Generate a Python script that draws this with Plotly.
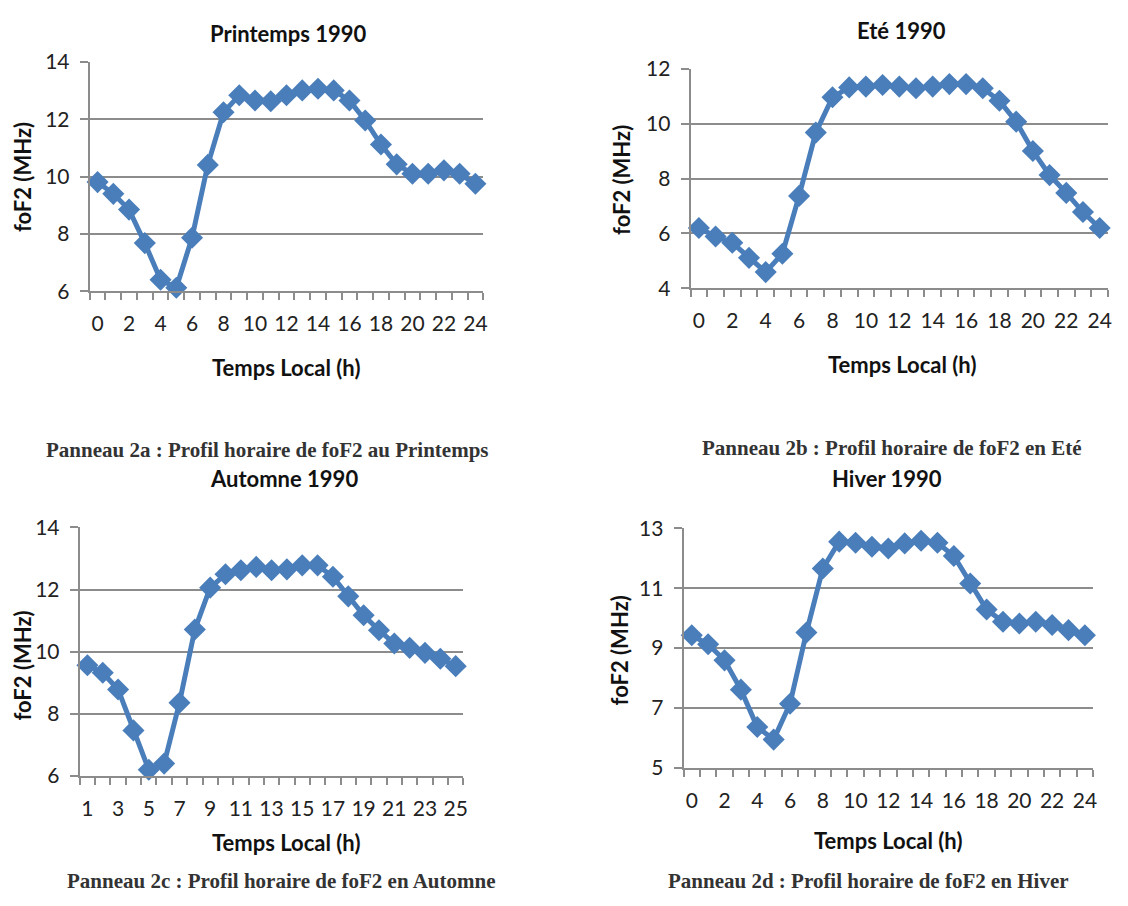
import plotly.graph_objects as go

# ---------------- data ----------------
hours_a = list(range(0, 25))
foF2_printemps = [9.81, 9.40, 8.85, 7.68, 6.40, 6.12, 7.87, 10.41, 12.25, 12.84, 12.66, 12.63, 12.84,
                  13.01, 13.07, 13.01, 12.66, 11.96, 11.12, 10.43, 10.10, 10.10, 10.22, 10.10, 9.75]

hours_b = list(range(0, 25))
foF2_ete = [6.20, 5.89, 5.66, 5.11, 4.59, 5.26, 7.37, 9.68, 10.97, 11.33, 11.36, 11.42, 11.36,
            11.30, 11.36, 11.45, 11.45, 11.30, 10.84, 10.08, 9.01, 8.13, 7.48, 6.78, 6.20]

hours_c = list(range(1, 26))
foF2_automne = [9.56, 9.32, 8.78, 7.46, 6.19, 6.39, 8.35, 10.71, 12.06, 12.49, 12.62, 12.73, 12.62,
                12.65, 12.78, 12.78, 12.41, 11.78, 11.17, 10.69, 10.26, 10.12, 9.96, 9.77, 9.53]

hours_d = list(range(0, 25))
foF2_hiver = [9.43, 9.13, 8.59, 7.61, 6.36, 5.94, 7.14, 9.52, 11.66, 12.56, 12.52, 12.39, 12.33,
              12.50, 12.59, 12.52, 12.08, 11.16, 10.29, 9.88, 9.82, 9.88, 9.77, 9.60, 9.43]

titles = ["Printemps 1990", "Eté 1990", "Automne 1990", "Hiver 1990"]
captions = ["Panneau 2a : Profil horaire de foF2 au Printemps",
            "Panneau 2b : Profil horaire de foF2 en Eté",
            "Panneau 2c : Profil horaire de foF2 en Automne",
            "Panneau 2d : Profil horaire de foF2 en Hiver"]
xtick_a = list(range(0, 25, 2))
xtick_c = list(range(1, 26, 2))
ytick_a = [6, 8, 10, 12, 14]
ytick_b = [4, 6, 8, 10, 12]
ytick_c = [6, 8, 10, 12, 14]
ytick_d = [5, 7, 9, 11, 13]

# ---------------- layout helpers ----------------
W, H = 1112, 890
# observed placement of the figure in the final picture
X0, Y0, SY = 8, 22, 0.971
BLUE = "#4A7EBB"
GRID = "#8C8C8C"
SANS = "Lato, Carlito, 'Open Sans', sans-serif"
SERIF = "'Liberation Serif', 'DejaVu Serif', serif"


def px(x):
    return (x - X0) / W


def py(y):
    return 1 - ((y - Y0) / SY) / H


def pyf(f):
    return 1 - f / H


panels = [
    dict(x=hours_a, y=foF2_printemps, xt=xtick_a, yt=ytick_a, box=(90, 485, 62, 291),
         title=(290, None, 12), ytitle=(22, 177), xtitle=(287, 367), cap=(268, 450)),
    dict(x=hours_b, y=foF2_ete, xt=xtick_a, yt=ytick_b, box=(693, 1112, 69, 288),
         title=(905, None, 9), ytitle=(623, 180), xtitle=(905, 364), cap=(895, 448)),
    dict(x=hours_c, y=foF2_automne, xt=xtick_c, yt=ytick_c, box=(80, 465, 527, 775),
         title=(285, 478, None), ytitle=(23, 665), xtitle=(287, 842), cap=(282, 880)),
    dict(x=hours_d, y=foF2_hiver, xt=xtick_a, yt=ytick_d, box=(686, 1097, 528, 767),
         title=(890, 478, None), ytitle=(622, 650), xtitle=(891, 840), cap=(872, 880)),
]

fig = go.Figure()
layout = dict(width=W, height=H, margin=dict(l=0, r=0, t=0, b=0),
              paper_bgcolor="white", plot_bgcolor="white", showlegend=False,
              annotations=[])

for i, p in enumerate(panels):
    n = "" if i == 0 else str(i + 1)
    l, r, t, b = p["box"]
    fig.add_trace(go.Scatter(
        x=p["x"], y=p["y"], mode="lines+markers",
        line=dict(color=BLUE, width=5),
        marker=dict(symbol="diamond", size=17, color=BLUE),
        xaxis="x" + n, yaxis="y" + n, cliponaxis=False))
    xmin, xmax = p["x"][0] - 0.5, p["x"][-1] + 0.5
    layout["xaxis" + n] = dict(
        domain=[px(l), px(r)], anchor="y" + n, range=[xmin, xmax],
        tickvals=p["xt"], ticks="outside", ticklen=0, showgrid=False,
        showline=True, linecolor=GRID, linewidth=2, zeroline=False,
        tickfont=dict(family=SANS, size=21, color="#222"), ticklabelstandoff=13,
        minor=dict(tick0=xmin, dtick=1, ticks="outside", ticklen=7,
                   tickcolor=GRID, tickwidth=2, showgrid=False))
    layout["yaxis" + n] = dict(
        domain=[py(b), py(t)], anchor="x" + n, range=[p["yt"][0], p["yt"][-1]],
        tickvals=p["yt"], ticks="outside", ticklen=8, tickcolor=GRID, tickwidth=2,
        showgrid=True, gridcolor=GRID, gridwidth=2, zeroline=False,
        showline=True, linecolor=GRID, linewidth=2,
        tickfont=dict(family=SANS, size=21, color="#222"), ticklabelstandoff=6)
    ann = layout["annotations"]
    tx, ty, tf = p["title"]
    ann.append(dict(text="<b>%s</b>" % titles[i], x=px(tx),
                    y=pyf(tf) if ty is None else py(ty),
                    xref="paper", yref="paper", showarrow=False,
                    font=dict(family=SANS, size=22, color="#111"),
                    xanchor="center", yanchor="middle"))
    ann.append(dict(text="<b>foF2 (MHz)</b>", x=px(p["ytitle"][0]), y=py(p["ytitle"][1]),
                    xref="paper", yref="paper", showarrow=False, textangle=-90,
                    font=dict(family=SANS, size=22, color="#111"),
                    xanchor="center", yanchor="middle"))
    ann.append(dict(text="<b>Temps Local (h)</b>", x=px(p["xtitle"][0]), y=py(p["xtitle"][1]),
                    xref="paper", yref="paper", showarrow=False,
                    font=dict(family=SANS, size=22, color="#111"),
                    xanchor="center", yanchor="middle"))
    ann.append(dict(text="<b>%s</b>" % captions[i], x=px(p["cap"][0]), y=py(p["cap"][1]),
                    xref="paper", yref="paper", showarrow=False,
                    font=dict(family=SERIF, size=21, color="#333"),
                    xanchor="center", yanchor="middle"))

fig.update_layout(**layout)
fig.write_html("out.html")
